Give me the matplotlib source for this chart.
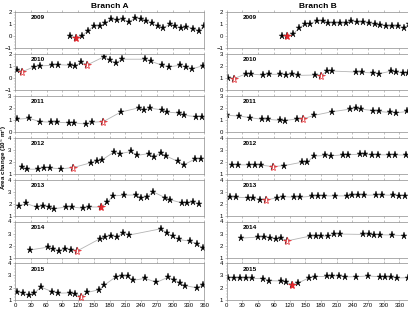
import matplotlib
matplotlib.use('Agg')
import matplotlib.pyplot as plt
from matplotlib.ticker import MultipleLocator

plt.rcParams['font.family'] = ['Liberation Sans', 'DejaVu Sans']

years = ['2009', '2010', '2011', '2012', '2013', '2014', '2015']

# ---- Branch A ----
a09_day = [105, 116, 127, 138, 150, 161, 171, 183, 194, 206, 216, 228, 239, 249, 261, 271, 282, 294, 304, 316, 326, 338, 349, 360]
a09_val = [0.0, -0.14, 0.0, 0.44, 0.83, 0.83, 1.07, 1.40, 1.32, 1.40, 1.16, 1.49, 1.43, 1.27, 1.05, 0.88, 0.69, 0.99, 0.80, 0.66, 0.77, 0.63, 0.44, 0.85]
a10_day = [3, 14, 37, 48, 70, 82, 104, 115, 126, 137, 170, 181, 192, 204, 247, 258, 280, 292, 314, 325, 336, 358]
a10_val = [0.69, 0.53, 0.94, 1.0, 1.06, 1.11, 1.06, 1.0, 1.33, 1.08, 1.78, 1.47, 1.25, 1.56, 1.56, 1.39, 1.06, 0.92, 1.06, 0.89, 0.75, 1.03]
a11_day = [3, 26, 47, 69, 80, 102, 113, 135, 146, 168, 201, 235, 246, 257, 279, 290, 312, 322, 345, 356]
a11_val = [1.05, 1.14, 0.86, 0.81, 0.81, 0.76, 0.76, 0.65, 0.81, 0.86, 1.65, 2.0, 1.81, 1.97, 1.84, 1.65, 1.57, 1.38, 1.27, 1.27]
a12_day = [13, 22, 44, 55, 66, 88, 111, 144, 155, 166, 188, 199, 221, 232, 255, 265, 277, 288, 310, 321, 343, 354]
a12_val = [1.56, 1.39, 1.39, 1.53, 1.50, 1.42, 1.53, 1.92, 2.06, 2.17, 2.81, 2.67, 2.86, 2.53, 2.69, 2.44, 2.75, 2.47, 2.03, 1.75, 2.25, 2.22]
a13_day = [8, 21, 41, 53, 64, 75, 97, 108, 130, 141, 164, 175, 187, 208, 230, 240, 251, 263, 285, 295, 318, 328, 339, 350]
a13_val = [1.81, 2.02, 1.73, 1.81, 1.73, 1.59, 1.73, 1.73, 1.62, 1.73, 1.73, 2.11, 2.65, 2.71, 2.73, 2.51, 2.57, 2.98, 2.51, 2.33, 2.06, 2.08, 2.11, 2.0]
a14_day = [28, 62, 73, 84, 96, 106, 117, 161, 171, 183, 194, 206, 216, 278, 289, 300, 311, 333, 346, 357]
a14_val = [1.64, 1.87, 1.70, 1.56, 1.76, 1.64, 1.53, 2.56, 2.73, 2.82, 2.73, 3.07, 2.87, 3.40, 3.02, 2.76, 2.51, 2.37, 2.15, 1.81]
a15_day = [3, 15, 26, 37, 49, 70, 82, 104, 115, 126, 137, 159, 170, 192, 203, 214, 225, 247, 269, 291, 302, 313, 324, 346, 357]
a15_val = [1.64, 1.53, 1.34, 1.53, 2.04, 1.67, 1.53, 1.56, 1.48, 1.25, 1.59, 1.81, 2.20, 2.90, 2.96, 2.93, 2.60, 2.76, 2.43, 2.85, 2.65, 2.40, 2.15, 1.98, 2.20]

# ---- Branch B ----
b09_day = [105, 116, 127, 138, 150, 160, 172, 183, 194, 205, 216, 227, 238, 249, 260, 271, 283, 293, 305, 316, 327, 338, 349]
b09_val = [0.0, 0.0, 0.17, 0.66, 1.02, 1.02, 1.29, 1.24, 1.10, 1.07, 1.07, 1.07, 1.24, 1.16, 1.16, 1.05, 0.99, 0.91, 0.85, 0.80, 0.80, 0.69, 1.0]
b10_day = [3, 13, 36, 46, 69, 80, 102, 113, 125, 136, 169, 180, 191, 202, 246, 258, 280, 291, 313, 324, 336, 347]
b10_val = [1.03, 0.94, 1.33, 1.33, 1.25, 1.31, 1.31, 1.28, 1.31, 1.22, 1.25, 1.17, 1.61, 1.58, 1.50, 1.47, 1.42, 1.36, 1.56, 1.50, 1.42, 1.40]
b11_day = [0, 24, 45, 67, 79, 101, 111, 134, 145, 167, 201, 235, 246, 257, 279, 290, 312, 323, 345]
b11_val = [1.38, 1.32, 1.19, 1.05, 1.05, 0.97, 0.95, 1.08, 1.08, 1.38, 1.68, 1.89, 1.95, 1.89, 1.78, 1.70, 1.62, 1.59, 1.70]
b12_day = [11, 21, 43, 54, 66, 88, 110, 144, 154, 166, 188, 199, 222, 232, 255, 265, 277, 288, 310, 321, 343]
b12_val = [1.75, 1.75, 1.75, 1.75, 1.72, 1.61, 1.69, 1.97, 1.97, 2.47, 2.53, 2.50, 2.58, 2.58, 2.64, 2.61, 2.58, 2.58, 2.58, 2.58, 2.56]
b13_day = [6, 17, 40, 51, 63, 75, 96, 107, 129, 140, 163, 174, 185, 207, 229, 240, 251, 263, 285, 296, 318, 330, 341]
b13_val = [2.54, 2.54, 2.51, 2.46, 2.35, 2.32, 2.48, 2.59, 2.54, 2.54, 2.62, 2.65, 2.65, 2.65, 2.65, 2.70, 2.73, 2.70, 2.73, 2.73, 2.70, 2.67, 2.67]
b14_day = [27, 60, 71, 83, 94, 104, 116, 159, 170, 181, 194, 205, 216, 260, 272, 282, 293, 316, 339]
b14_val = [2.62, 2.71, 2.71, 2.65, 2.57, 2.62, 2.40, 2.79, 2.79, 2.79, 2.79, 2.93, 2.96, 2.93, 2.93, 2.90, 2.90, 2.88, 2.82]
b15_day = [3, 14, 26, 36, 48, 70, 81, 103, 114, 125, 136, 158, 169, 192, 202, 214, 225, 247, 269, 292, 302, 314, 325, 347]
b15_val = [2.82, 2.79, 2.79, 2.79, 2.76, 2.74, 2.57, 2.54, 2.46, 2.20, 2.37, 2.82, 2.90, 2.93, 2.96, 2.96, 2.88, 2.90, 2.96, 2.90, 2.88, 2.85, 2.79, 2.82]

# index of highlighted (red) acquisitions and whether they are filled
a_red = [[1], [1, 9], [9], [6], [10], [6], [9]]
a_fill = [True, False, False, False, True, False, False]
b_red = [[1], [1, 11], [8], [5], [5], [6], [9]]
b_fill = [True, False, False, False, False, False, True]

a_ylim = [(-1, 2), (-1, 2), (0, 3), (1, 4), (1, 4), (1, 4), (1, 4)]
b_ylim = [(-1, 2), (0, 3), (0, 3), (1, 4), (1, 4), (1, 4), (1, 4)]

a_data = [(a09_day, a09_val), (a10_day, a10_val), (a11_day, a11_val), (a12_day, a12_val),
          (a13_day, a13_val), (a14_day, a14_val), (a15_day, a15_val)]
b_data = [(b09_day, b09_val), (b10_day, b10_val), (b11_day, b11_val), (b12_day, b12_val),
          (b13_day, b13_val), (b14_day, b14_val), (b15_day, b15_val)]

W, H = 408, 309
fig = plt.figure(figsize=(W / 100, H / 100), dpi=100)

spine_col = '#8c8c8c'


def panel(x0, x1, row, data, red, fill, ylim, year, last):
    top = 12 + 41.9 * row
    ax = fig.add_axes([x0 / W, 1 - (top + 36.2) / H, (x1 - x0) / W, 36.2 / H])
    d, v = data
    ax.plot(d, v, color='#b4b4b4', lw=0.6, zorder=1)
    ax.plot(d, v, ls='none', marker='*', ms=5.2, color='black', mew=0.3, zorder=2)
    for i in red:
        ax.plot(d[i], v[i], ls='none', marker='*', ms=5.8, mec='#e8262c', mew=0.5,
                mfc='#e8262c' if fill else 'white', zorder=3)
    ax.set_xlim(0, 360)
    ax.set_ylim(*ylim)
    ax.xaxis.set_major_locator(MultipleLocator(30))
    ax.yaxis.set_major_locator(MultipleLocator(1))
    ax.yaxis.set_minor_locator(MultipleLocator(0.25))
    ax.tick_params(axis='both', labelsize=4.3, length=1.6, width=0.4, pad=0.8,
                   color=spine_col, direction='out')
    ax.tick_params(axis='x', top=True)
    ax.tick_params(axis='y', which='minor', length=0.9, width=0.3, color=spine_col)
    if not last:
        ax.tick_params(axis='x', labelbottom=False)
    for s in ax.spines.values():
        s.set_color(spine_col)
        s.set_linewidth(0.5)
    ax.text(0.085, 0.84, year, transform=ax.transAxes, fontsize=4.6,
            fontweight='bold', va='center', ha='left')
    return ax


for r in range(7):
    panel(15, 204.3, r, a_data[r], a_red[r], a_fill[r], a_ylim[r], years[r], r == 6)
    panel(226.7, 415.2, r, b_data[r], b_red[r], b_fill[r], b_ylim[r], years[r], r == 6)

fig.text(109.6 / W, 1 - 6 / H, 'Branch A', ha='center', va='center',
         fontsize=6.0, fontweight='bold')
fig.text(318 / W, 1 - 6 / H, 'Branch B', ha='center', va='center',
         fontsize=6.0, fontweight='bold')
fig.text(4.2 / W, 1 - 157 / H, 'Area change (10$^5$ m$^2$)', rotation=90,
         ha='center', va='center', fontsize=4.5, fontweight='bold')

fig.savefig('out.png', dpi=100)
